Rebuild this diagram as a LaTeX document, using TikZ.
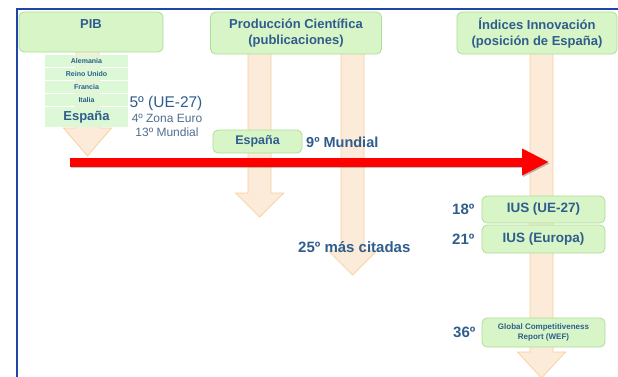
\documentclass[tikz,border=0pt]{standalone}
\usepackage{fontspec}
\setmainfont{Liberation Sans}
\usepackage{tikz}
\usetikzlibrary{arrows.meta, positioning, calc}
\definecolor{boxfill}{HTML}{D8F5C8}
\definecolor{boxline}{HTML}{B0DE96}
\definecolor{rowfill}{HTML}{DCF8D6}
\definecolor{arrfill}{HTML}{FDEBDA}
\definecolor{arrline}{HTML}{F5CE9C}
\definecolor{txtblue}{HTML}{2F5D8C}
\definecolor{txtgray}{HTML}{4F6E8E}
\definecolor{framebl}{HTML}{1F45A5}
\tikzset{
  gbox/.style={draw=boxline, fill=boxfill, rounded corners=5pt, line width=0.8pt, align=center,
    text=txtblue, font=\bfseries\fontsize{13}{16}\selectfont, inner sep=0pt},
  row/.style={fill=rowfill, minimum width=83pt, minimum height=12pt, inner sep=0pt,
    text=txtblue, font=\bfseries\fontsize{7}{8}\selectfont},
  rank/.style={text=txtblue, font=\bfseries\fontsize{15}{17}\selectfont, inner sep=0pt},
  barrow/.style={fill=arrfill, draw=arrline, line width=0.7pt},
  redarr/.style={-{Triangle[length=27pt, width=25pt]}, line width=9pt, red},
}
% block arrow pointing down: x centre, top, head top, tip
\newcommand{\blockdown}[4]{%
  \filldraw[barrow] (#1-11.5,#2) -- (#1+11.5,#2) -- (#1+11.5,#3) -- (#1+24,#3)
    -- (#1,#4) -- (#1-24,#3) -- (#1-11.5,#3) -- cycle;}

\begin{document}
\begin{tikzpicture}[x=1pt, y=-1pt]
  \useasboundingbox (0,0) rectangle (618,376);
  \clip (0,0) rectangle (618,376);

  % arrows behind the boxes
  \blockdown{87.5}{50}{128}{156}
  \blockdown{259.5}{50}{193}{217}
  \blockdown{352.5}{50}{251}{275}
  \blockdown{541.5}{50}{352}{378}

  % column heads
  \node[gbox, minimum width=144pt, minimum height=40pt] (pib) at (91,32) {};
  \node[text=txtblue, font=\bfseries\fontsize{13}{16}\selectfont, inner sep=0pt] (pibtxt) at (91,24) {PIB};
  \node[gbox, minimum width=171pt, minimum height=42pt] (prod) at (296,33) {Producción Científica\\(publicaciones)};
  \node[gbox, minimum width=160pt, minimum height=42pt] (indx) at (537,33) {Índices Innovación\\(posición de España)};

  % PIB ranking
  \node[row] (ale) at (86.5,61) {Alemania};
  \node[row] (ruk) at (86.5,74) {Reino Unido};
  \node[row] (fra) at (86.5,87) {Francia};
  \node[row] (ita) at (86.5,100) {Italia};
  \node[row, minimum height=20pt, font=\bfseries\fontsize{13}{15}\selectfont] (esp) at (86.5,117) {España};
  \node[text=txtblue, font=\fontsize{15.5}{17}\selectfont, inner sep=0pt] (ue) at (166,103) {5º (UE-27)};
  \node[text=txtgray, font=\fontsize{12}{14}\selectfont, inner sep=0pt] (zona) at (167,118) {4º Zona Euro};
  \node[text=txtgray, font=\fontsize{12}{14}\selectfont, inner sep=0pt] (mund) at (167,132) {13º Mundial};

  % publicaciones
  \node[gbox, minimum width=89pt, minimum height=23pt, font=\bfseries\fontsize{12.5}{14}\selectfont] (espp) at (257.5,141.5) {España};
  \node[rank, font=\bfseries\fontsize{14.5}{16}\selectfont, anchor=west] (nueve) at (306,142) {9º Mundial};
  \node[rank, anchor=west] (citas) at (298,247) {25º más citadas};

  % indices
  \node[gbox, minimum width=123pt, minimum height=27pt, font=\bfseries\fontsize{13.5}{15}\selectfont] (ius1) at (543.5,209.5) {IUS (UE-27)};
  \node[gbox, minimum width=123pt, minimum height=28pt, font=\bfseries\fontsize{13.5}{15}\selectfont] (ius2) at (543.5,239) {IUS (Europa)};
  \node[gbox, minimum width=123pt, minimum height=29pt, font=\bfseries\fontsize{8}{10.5}\selectfont] (gcr) at (543.5,332.5) {Global Competitiveness\\Report (WEF)};
  \node[rank, left=7pt of ius1] (r18) {18º};
  \node[rank, left=7pt of ius2] (r21) {21º};
  \node[rank, left=6pt of gcr] (r36) {36º};

  % red arrow
  \coordinate (redstart) at (70,162);
  \coordinate (redend) at (549,162);
  \draw[redarr, black, opacity=0.25] ($(redstart)+(1,1.5)$) -- ($(redend)+(1,1.5)$);
  \draw[redarr] (redstart) -- (redend);

  % frame
  \draw[framebl, line width=2.4pt] (17,378) -- (17,9) -- (620,9);
\end{tikzpicture}
\end{document}
